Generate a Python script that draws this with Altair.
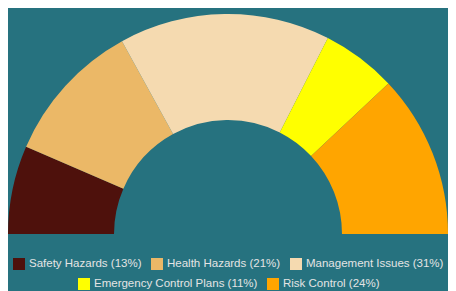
import altair as alt
import pandas as pd

names = ["Safety Hazards", "Health Hazards", "Management Issues", "Emergency Control Plans", "Risk Control"]
values = [13, 21, 31, 11, 24]
colors = ["#4e110c", "#ebb867", "#f5dab0", "#ffff00", "#ffa500"]

labels = [f"{n} ({v}%)" for n, v in zip(names, values)]
df = pd.DataFrame({"label": labels, "value": values, "order": list(range(len(values)))})

BG = "#26727f"

base = alt.Chart(df).transform_stack(
    stack="value", groupby=[], as_=["v0", "v1"], sort=[alt.SortField("order")]
)

theta_scale = alt.Scale(domain=[0, sum(values)], range=[-3.14159265 / 2, 3.14159265 / 2])

def layer(lo, hi, lx, ly):
    return base.transform_filter(
        (alt.datum.order >= lo) & (alt.datum.order < hi)
    ).mark_arc(outerRadius=220, innerRadius=114).encode(
        theta=alt.Theta("v0:Q", scale=theta_scale),
        theta2="v1:Q",
        x=alt.value(220),
        y=alt.value(226),
        color=alt.Color(
            "label:N",
            scale=alt.Scale(domain=labels[lo:hi], range=colors[lo:hi]),
            legend=alt.Legend(
                title=None, orient="none", legendX=lx, legendY=ly,
                direction="horizontal", symbolType="square", symbolSize=144,
                symbolStrokeWidth=0, symbolOpacity=1, labelFont="Liberation Sans",
                labelFontSize=11.5, labelColor="#e4e4e4", labelOffset=4,
                columnPadding=9, labelLimit=300,
            ),
        ),
        order=alt.Order("order:Q"),
    )

chart = alt.layer(layer(0, 3, 5, 250), layer(3, 5, 70, 270)).resolve_scale(
    color="independent"
).properties(
    width=440, height=283, background=BG, padding=0, autosize="none"
).configure_view(stroke=None)

chart.save("out.html", embed_options={"renderer": "svg", "actions": False})
